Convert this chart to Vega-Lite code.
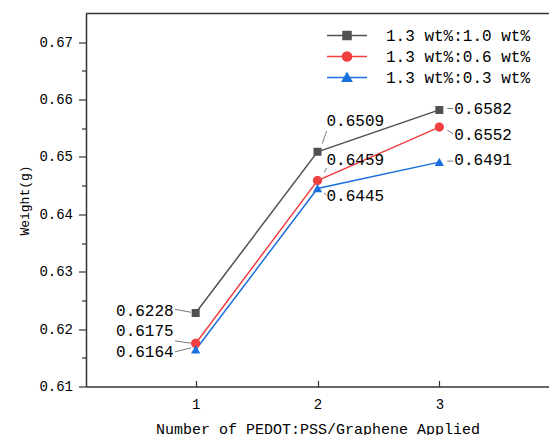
{
  "$schema": "https://vega.github.io/schema/vega-lite/v6.json",
  "width": 463,
  "height": 373,
  "autosize": "none",
  "padding": {"left": 86, "top": 13.5, "right": 0, "bottom": 48.5},
  "background": "white",
  "config": {
    "view": {"stroke": null},
    "font": "Liberation Mono",
    "axis": {"labelFont": "Liberation Mono", "titleFont": "Liberation Mono", "labelColor": "#000", "titleColor": "#000", "titleFontWeight": "normal", "domainColor": "#333", "domainWidth": 1.5, "tickColor": "#333", "tickWidth": 1.2, "grid": false},
    "legend": {"orient": "none", "legendX": 253, "legendY": 14, "labelFont": "Liberation Mono", "labelFontSize": 16, "labelColor": "#000", "labelOffset": 31, "rowPadding": 5, "symbolSize": 64, "padding": 0, "symbolStrokeWidth": 1.5},
    "text": {"font": "Liberation Mono", "fontSize": 16, "color": "#000", "baseline": "middle"},
    "rule": {"color": "#555", "strokeWidth": 0.8}
  },
  "data": {
    "values": [
      {"id": "A1", "n": 1, "w": 0.6228, "s": "1.3 wt%:1.0 wt%"},
      {"id": "A2", "n": 2, "w": 0.6509, "s": "1.3 wt%:1.0 wt%"},
      {"id": "A3", "n": 3, "w": 0.6582, "s": "1.3 wt%:1.0 wt%"},
      {"id": "B1", "n": 1, "w": 0.6175, "s": "1.3 wt%:0.6 wt%"},
      {"id": "B2", "n": 2, "w": 0.6459, "s": "1.3 wt%:0.6 wt%"},
      {"id": "B3", "n": 3, "w": 0.6552, "s": "1.3 wt%:0.6 wt%"},
      {"id": "C1", "n": 1, "w": 0.6164, "s": "1.3 wt%:0.3 wt%"},
      {"id": "C2", "n": 2, "w": 0.6445, "s": "1.3 wt%:0.3 wt%"},
      {"id": "C3", "n": 3, "w": 0.6491, "s": "1.3 wt%:0.3 wt%"}
    ]
  },
  "encoding": {
    "x": {"field": "n", "type": "quantitative", "scale": {"domain": [0.1, 3.9], "nice": false, "zero": false},
          "axis": {"values": [1, 2, 3], "format": "d", "title": "Number of PEDOT:PSS/Graphene Applied", "labelFontSize": 14, "titleFontSize": 15, "tickSize": -6, "labelPadding": 17, "titlePadding": 10, "labelFlush": false}},
    "y": {"field": "w", "type": "quantitative", "scale": {"domain": [0.61, 0.675], "nice": false, "zero": false},
          "axis": {"values": [0.61, 0.615, 0.62, 0.625, 0.63, 0.635, 0.64, 0.645, 0.65, 0.655, 0.66, 0.665, 0.67],
                   "labelExpr": "round(datum.value*1000) % 10 == 0 ? format(datum.value, '.2f') : ''",
                   "tickSize": {"condition": {"test": "round(datum.value*1000) % 10 == 0", "value": 7.5}, "value": 4.5},
                   "title": "Weight(g)", "labelFontSize": 14, "titleFontSize": 13, "labelPadding": 6, "titlePadding": 7, "labelFlush": false}}
  },
  "layer": [
    {
      "mark": {"type": "line", "strokeWidth": 1.5},
      "encoding": {
        "stroke": {"field": "s", "type": "nominal", "title": null,
                  "scale": {"domain": ["1.3 wt%:1.0 wt%", "1.3 wt%:0.6 wt%", "1.3 wt%:0.3 wt%"], "range": ["#515151", "#F14040", "#1A6FDF"]}}
      }
    },
    {
      "mark": {"type": "point", "filled": true, "size": 64, "strokeWidth": 0, "opacity": 1},
      "encoding": {
        "color": {"field": "s", "type": "nominal", "title": null,
                  "scale": {"domain": ["1.3 wt%:1.0 wt%", "1.3 wt%:0.6 wt%", "1.3 wt%:0.3 wt%"], "range": ["#515151", "#F14040", "#1A6FDF"]},
                  "legend": {"encode": {"symbols": {"update": {"strokeWidth": {"value": 1.5}}}}}
        },
        "shape": {"field": "s", "type": "nominal", "title": null,
                  "scale": {"domain": ["1.3 wt%:1.0 wt%", "1.3 wt%:0.6 wt%", "1.3 wt%:0.3 wt%"],
                            "range": ["M-5,0H5M-1,-1H1V1H-1Z", "M-5,0H5M1.15,0A1.15,1.15,0,1,1,-1.15,0A1.15,1.15,0,1,1,1.15,0Z", "M-5,0H5M0,-1.1L1.15,0.95L-1.15,0.95Z"]},
                  "legend": {"encode": {"symbols": {"update": {"strokeWidth": {"value": 1.5}}}}}}
      }
    },
    {
      "transform": [{"filter": "datum.id == 'A1'"}],
      "layer": [
        {"mark": {"type": "rule", "xOffset": -20.7, "yOffset": -3.8, "x2Offset": -4.7, "y2Offset": -0.8}, "encoding": {"x2": {"field": "n"}, "y2": {"field": "w"}}},
        {"mark": {"type": "text", "align": "right", "dx": -22, "dy": -2.4}, "encoding": {"text": {"field": "w", "format": ".4f"}}}
      ]
    },
    {
      "transform": [{"filter": "datum.id == 'B1'"}],
      "layer": [
        {"mark": {"type": "rule", "xOffset": -20.7, "yOffset": -2.6, "x2Offset": -4.7, "y2Offset": -0.3}, "encoding": {"x2": {"field": "n"}, "y2": {"field": "w"}}},
        {"mark": {"type": "text", "align": "right", "dx": -22, "dy": -12}, "encoding": {"text": {"field": "w", "format": ".4f"}}}
      ]
    },
    {
      "transform": [{"filter": "datum.id == 'C1'"}],
      "layer": [
        {"mark": {"type": "rule", "xOffset": -20.7, "yOffset": 2.1, "x2Offset": -4.7, "y2Offset": -1.9}, "encoding": {"x2": {"field": "n"}, "y2": {"field": "w"}}},
        {"mark": {"type": "text", "align": "right", "dx": -22, "dy": 2}, "encoding": {"text": {"field": "w", "format": ".4f"}}}
      ]
    },
    {
      "transform": [{"filter": "datum.id == 'A2'"}],
      "layer": [
        {"mark": {"type": "rule", "xOffset": 9.1, "yOffset": -20.8, "x2Offset": 4.8, "y2Offset": -8.2}, "encoding": {"x2": {"field": "n"}, "y2": {"field": "w"}}},
        {"mark": {"type": "text", "align": "left", "dx": 9, "dy": -31}, "encoding": {"text": {"field": "w", "format": ".4f"}}}
      ]
    },
    {
      "transform": [{"filter": "datum.id == 'B2'"}],
      "layer": [
        {"mark": {"type": "rule", "xOffset": 9.1, "yOffset": -12.3, "x2Offset": 6.8, "y2Offset": -8.3}, "encoding": {"x2": {"field": "n"}, "y2": {"field": "w"}}},
        {"mark": {"type": "text", "align": "left", "dx": 9, "dy": -20}, "encoding": {"text": {"field": "w", "format": ".4f"}}}
      ]
    },
    {
      "transform": [{"filter": "datum.id == 'C2'"}],
      "layer": [
        {"mark": {"type": "rule", "xOffset": 6.5, "yOffset": 4.5, "x2Offset": 9, "y2Offset": 6.5}, "encoding": {"x2": {"field": "n"}, "y2": {"field": "w"}}},
        {"mark": {"type": "text", "align": "left", "dx": 9, "dy": 7.5}, "encoding": {"text": {"field": "w", "format": ".4f"}}}
      ]
    },
    {
      "transform": [{"filter": "datum.id == 'A3'"}],
      "layer": [
        {"mark": {"type": "rule", "xOffset": 8, "yOffset": -1.5, "x2Offset": 14, "y2Offset": -1.3}, "encoding": {"x2": {"field": "n"}, "y2": {"field": "w"}}},
        {"mark": {"type": "text", "align": "left", "dx": 15, "dy": -1.3}, "encoding": {"text": {"field": "w", "format": ".4f"}}}
      ]
    },
    {
      "transform": [{"filter": "datum.id == 'B3'"}],
      "layer": [
        {"mark": {"type": "rule", "xOffset": 8, "yOffset": 3, "x2Offset": 14, "y2Offset": 7}, "encoding": {"x2": {"field": "n"}, "y2": {"field": "w"}}},
        {"mark": {"type": "text", "align": "left", "dx": 15, "dy": 7.4}, "encoding": {"text": {"field": "w", "format": ".4f"}}}
      ]
    },
    {
      "transform": [{"filter": "datum.id == 'C3'"}],
      "layer": [
        {"mark": {"type": "rule", "xOffset": 8, "yOffset": -1, "x2Offset": 14, "y2Offset": -1}, "encoding": {"x2": {"field": "n"}, "y2": {"field": "w"}}},
        {"mark": {"type": "text", "align": "left", "dx": 15, "dy": -2}, "encoding": {"text": {"field": "w", "format": ".4f"}}}
      ]
    },
    {
      "data": {"values": [{"top": 0.675}]},
      "mark": {"type": "rule", "color": "#333", "strokeWidth": 1.5},
      "encoding": {"x": null, "y": {"field": "top", "type": "quantitative"}}
    }
  ]
}
